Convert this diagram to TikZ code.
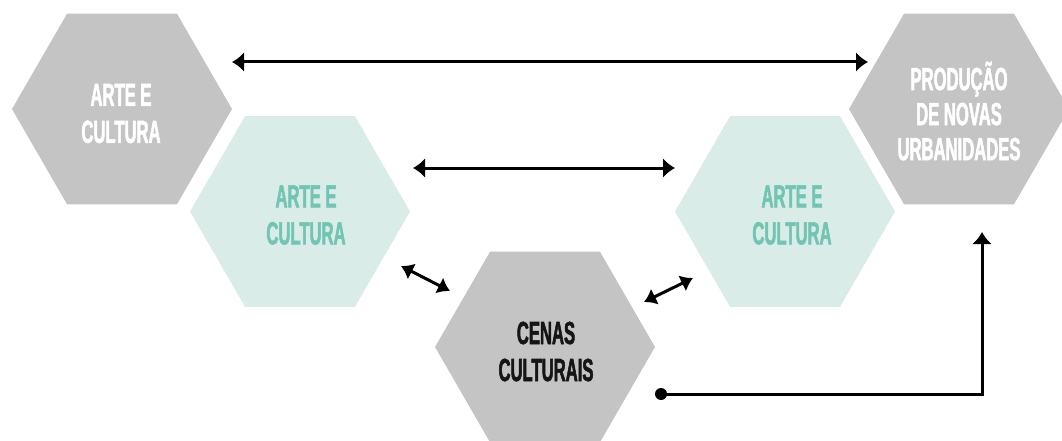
\documentclass[tikz,border=0pt]{standalone}
\usepackage{fontspec}
\usetikzlibrary{shapes.geometric,arrows.meta}
\newfontfamily\hexfont[FakeStretch=0.52,FakeBold=1.6]{Liberation Sans}
\definecolor{hexgray}{HTML}{C4C4C4}
\definecolor{hexteal}{HTML}{D9ECE7}
\definecolor{txtteal}{HTML}{72C5B3}
\definecolor{txtdark}{HTML}{151515}
\tikzset{
  hexbase/.style={regular polygon, regular polygon sides=6, minimum size=220pt, inner sep=0pt, draw=none},
  hexg/.style={hexbase, fill=hexgray},
  hext/.style={hexbase, fill=hexteal},
  hexlabel/.style={align=center, inner sep=0pt, font=\hexfont\bfseries\fontsize{32}{37}\selectfont},
  conn/.style={line width=3pt, black},
}
\begin{document}
\begin{tikzpicture}[x=1pt,y=-1pt]
\useasboundingbox (0,0) rectangle (1062,441);
% hexagons
\node[hexg] (h1) at (122,109) {};
\node[hexg] (h5) at (959,109) {};
\node[hext] (h2) at (300,211.5) {};
\node[hext] (h4) at (785,211.5) {};
\node[hexg] (h3) at (545,347) {};
% labels
\node[hexlabel, text=white] (l1) at (121,113.5) {ARTE E\\CULTURA};
\node[hexlabel, text=txtteal] (l2) at (306,215) {ARTE E\\CULTURA};
\node[hexlabel, text=txtteal] (l4) at (792,215) {ARTE E\\CULTURA};
\node[hexlabel, text=white, font=\hexfont\bfseries\fontsize{32}{35}\selectfont] (l5) at (959,111) {PRODUÇÃO\\DE NOVAS\\URBANIDADES};
\node[hexlabel, text=txtdark] (l3) at (546,351.5) {CENAS\\CULTURAIS};
% connector end points
\coordinate (a1) at (232,62);
\coordinate (a2) at (868,62);
\coordinate (b1) at (413,168);
\coordinate (b2) at (675,168);
\coordinate (c1) at (401,266);
\coordinate (c2) at (450,291);
\coordinate (d1) at (644,302);
\coordinate (d2) at (693,278);
\coordinate (e1) at (661,394);
\coordinate (e2) at (982,394);
\coordinate (e3) at (982,232);
% connectors
\draw[conn, {Latex[length=12pt,width=20pt]}-{Latex[length=12pt,width=20pt]}] (a1) -- (a2);
\draw[conn, {Latex[length=12pt,width=20pt]}-{Latex[length=12pt,width=20pt]}] (b1) -- (b2);
\draw[conn, {Latex[length=12pt,width=18pt]}-{Latex[length=12pt,width=18pt]}] (c1) -- (c2);
\draw[conn, {Latex[length=12pt,width=18pt]}-{Latex[length=12pt,width=18pt]}] (d1) -- (d2);
\fill (e1) circle (6pt);
\draw[conn, -{Latex[length=12pt,width=20pt]}] (e1) -- (e2) -- (e3);
\end{tikzpicture}
\end{document}
